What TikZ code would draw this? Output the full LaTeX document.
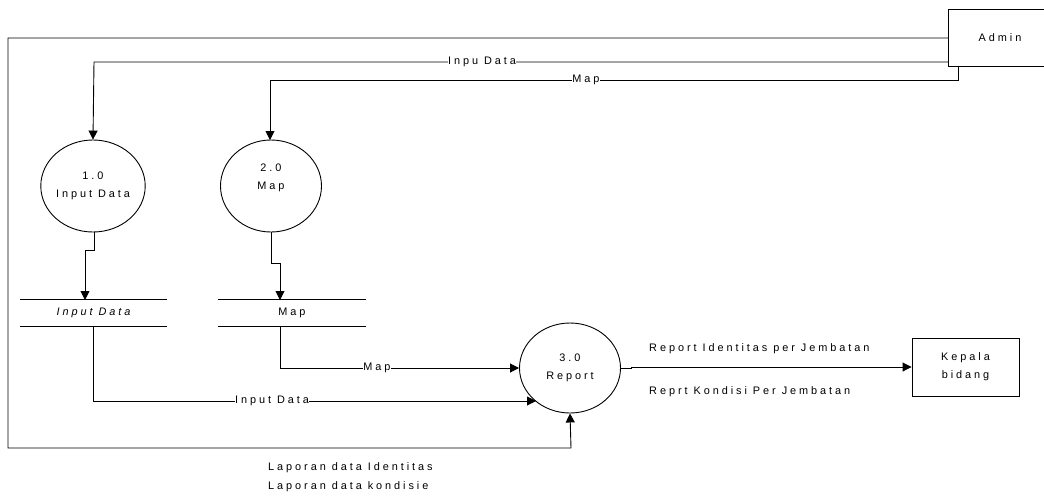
\documentclass[tikz,border=0pt]{standalone}
\usepackage{fontspec}
\setmainfont{Liberation Sans}[LetterSpace=27]
\usetikzlibrary{shapes.geometric,arrows.meta}
\begin{document}
\begin{tikzpicture}[x=1pt,y=-1pt,
  every node/.style={font=\fontsize{10.9}{18}\selectfont, inner sep=1pt},
  ent/.style={draw, line width=0.9pt, rectangle, align=center},
  proc/.style={draw, line width=0.9pt, ellipse, align=center, minimum width=101pt, minimum height=92pt, inner sep=0pt},
  store/.style={minimum width=147pt, minimum height=26pt, inner sep=0pt},
  flow/.style={line width=0.9pt, -{Triangle[length=9pt,width=9pt]}},
  plain/.style={line width=0.9pt},
  lbl/.style={fill=white, inner sep=0.5pt}]
\useasboundingbox (0,0) rectangle (1044,496);
% entities
\node[ent, minimum width=106pt, minimum height=57pt] (admin) at (1001,37.5) {};
\node (admintxt) at (1000,38) {Admin};
\node[ent, minimum width=107pt, minimum height=58pt] (kepala) at (965.5,367) {Kepala\\bidang};
% processes
\node[proc] (p1) at (93,186) {1.0\\Input Data};
\node[proc] (p2) at (271,186) {};
\node (p2t) at (271,178) [align=center] {2.0\\Map};
\node[proc, minimum height=90pt] (p3) at (570,368) {3.0\\Report};
% stores
\node[store] (s1) at (93.5,313) {\itshape Input Data};
\draw[plain] (s1.north west) -- (s1.north east);
\draw[plain] (s1.south west) -- (s1.south east);
\node[store] (s2) at (292,313) {Map};
\draw[plain] (s2.north west) -- (s2.north east);
\draw[plain] (s2.south west) -- (s2.south east);
% helper coordinates
\coordinate (a1) at (948,38);
\coordinate (a2) at (948,62);
\coordinate (a3) at (958,66);
% outer loop
\draw[flow] (a1) -- (8,38) -- (8,448) -- (571,448) -- (p3.south);
% Inpu Data
\draw[flow] (a2) -- (94,62) -- (p1.north);
\node[lbl] (l1) at (482,62) {Inpu Data};
% Map to p2
\draw[flow] (a3) -- (958,80) -- (270,80) -- (270,140);
\node[lbl] (l2) at (586,80) {Map};
% p1 -> s1
\draw[flow] (94,232) -- (94,250) -- (85,250) -- (85,300);
% p2 -> s2
\draw[flow] (271,232) -- (271,263) -- (280,263) -- (280,300);
% s2 -> p3
\draw[flow] (280,326) -- (280,368) -- (p3.west);
\node[lbl] (l3) at (377,368) {Map};
% s1 -> p3
\draw[flow] (93,326) -- (93,401) -- (536,401);
\node[lbl] (l4) at (272,401) {Input Data};
% p3 -> kepala
\draw[flow] (p3.east) -- ++(10,0) |- (kepala.west);
\node[anchor=west] (l5) at (648,349) {Report Identitas per Jembatan};
\node[anchor=west] (l6) at (648,392) {Reprt Kondisi Per Jembatan};
\node[anchor=west] (l7) at (267,468) {Laporan data Identitas};
\node[anchor=west] (l8) at (267,487) {Laporan data kondisie};
\end{tikzpicture}
\end{document}
